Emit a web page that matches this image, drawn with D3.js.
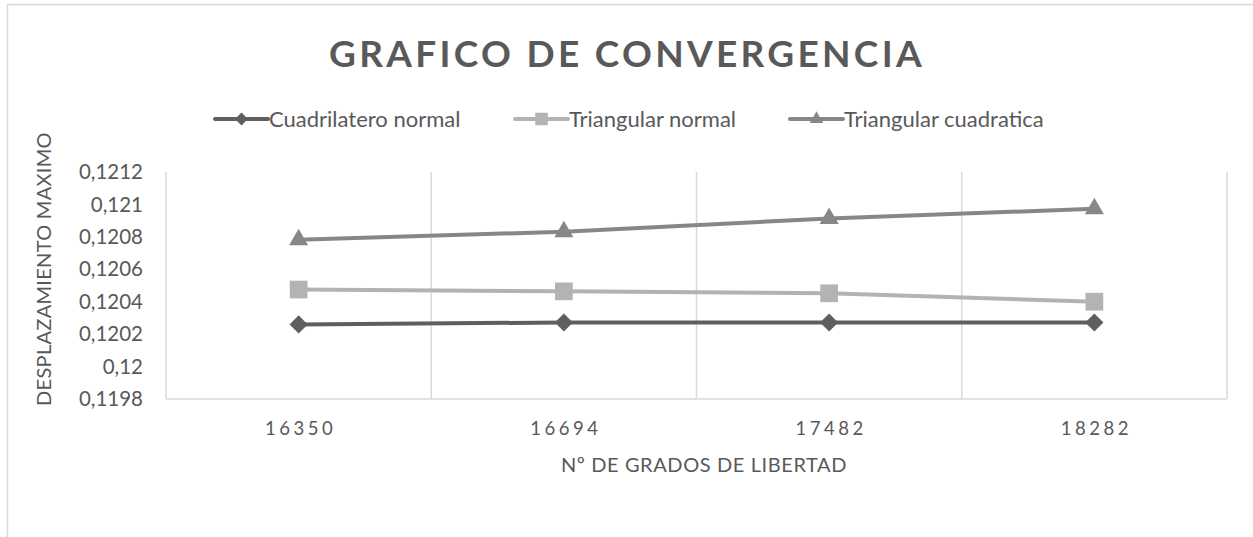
<!DOCTYPE html>
<html>
<head>
  <meta charset="utf-8">
  <title>Grafico de convergencia</title>
  <script src="https://d3js.org/d3.v7.min.js"></script>
  <style>
    body { margin: 0; background: #fff; }
    text { font-family: Lato, "Open Sans", sans-serif; fill: #595959; }
  </style>
</head>
<body>
<div id="chart"></div>
<script>
  // data
  var categories = ["16350", "16694", "17482", "18282"];
  var seriesNames = ["Cuadrilatero normal", "Triangular normal", "Triangular cuadratica"];
  var cuadrilateroNormal = [0.12026, 0.120272, 0.120272, 0.120272];
  var triangularNormal = [0.120475, 0.120464, 0.120452, 0.1204];
  var triangularCuadratica = [0.120782, 0.120832, 0.120913, 0.120973];
  var yTicks = [0.1198, 0.12, 0.1202, 0.1204, 0.1206, 0.1208, 0.121, 0.1212];

  var series = [
    { name: seriesNames[0], values: cuadrilateroNormal, color: "#5f5f5f", symbol: d3.symbolDiamond2, size: 210 },
    { name: seriesNames[1], values: triangularNormal, color: "#b3b3b3", symbol: d3.symbolSquare2, size: 400 },
    { name: seriesNames[2], values: triangularCuadratica, color: "#878787", symbol: d3.symbolTriangle2, size: 260 }
  ];

  var W = 1253, H = 537;
  var margin = { top: 172, right: 26, bottom: 138, left: 166 };

  var svg = d3.select("#chart").append("svg")
    .attr("width", W)
    .attr("height", H);

  // outer chart border
  svg.append("rect")
    .attr("x", 7.5).attr("y", 4.5)
    .attr("width", 1260).attr("height", 600)
    .attr("fill", "none")
    .attr("stroke", "#d9d9d9")
    .attr("stroke-width", 1.5);

  var x = d3.scaleBand()
    .domain(categories)
    .range([margin.left, W - margin.right])
    .padding(0);

  var y = d3.scaleLinear()
    .domain([0.1198, 0.1212])
    .range([H - margin.bottom, margin.top]);

  // vertical gridlines at category borders
  var borders = categories.map(function (c) { return x(c); }).concat([x.range()[1]]);
  svg.selectAll(".grid")
    .data(borders)
    .enter().append("line")
    .attr("class", "grid")
    .attr("x1", function (d) { return d; })
    .attr("x2", function (d) { return d; })
    .attr("y1", y(0.1212))
    .attr("y2", y(0.1198))
    .attr("stroke", "#d9d9d9")
    .attr("stroke-width", 1.5);

  // x axis line
  svg.append("line")
    .attr("x1", x.range()[0]).attr("x2", x.range()[1])
    .attr("y1", y(0.1198)).attr("y2", y(0.1198))
    .attr("stroke", "#d9d9d9")
    .attr("stroke-width", 1.5);

  // y tick labels
  svg.selectAll(".ytick")
    .data(yTicks)
    .enter().append("text")
    .attr("class", "ytick")
    .attr("x", 143)
    .attr("y", function (d) { return y(d); })
    .attr("dy", "0.35em")
    .attr("text-anchor", "end")
    .style("font-size", "20.5px")
    .text(function (d) { return String(+d.toFixed(4)).replace(".", ","); });

  // x tick labels
  svg.selectAll(".xtick")
    .data(categories)
    .enter().append("text")
    .attr("class", "xtick")
    .attr("x", function (d) { return x(d) + x.bandwidth() / 2 + 2; })
    .attr("y", 435)
    .attr("text-anchor", "middle")
    .style("font-size", "18.5px")
    .style("letter-spacing", "3.5px")
    .text(function (d) { return d; });

  // axis titles
  svg.append("text")
    .attr("x", 704).attr("y", 472)
    .attr("text-anchor", "middle")
    .style("font-size", "20px")
    .style("letter-spacing", "0.6px")
    .text("Nº DE GRADOS DE LIBERTAD");

  svg.append("text")
    .attr("transform", "translate(51,269) rotate(-90)")
    .attr("text-anchor", "middle")
    .style("font-size", "20px")
    .style("letter-spacing", "0.3px")
    .text("DESPLAZAMIENTO MAXIMO");

  // title
  svg.append("text")
    .attr("x", 627).attr("y", 67)
    .attr("text-anchor", "middle")
    .style("font-size", "37px")
    .style("font-weight", "bold")
    .style("letter-spacing", "3.3px")
    .text("GRAFICO DE CONVERGENCIA");

  // lines
  var line = d3.line()
    .x(function (d, i) { return x(categories[i]) + x.bandwidth() / 2; })
    .y(function (d) { return y(d); });

  series.forEach(function (s) {
    svg.append("path")
      .datum(s.values)
      .attr("d", line)
      .attr("fill", "none")
      .attr("stroke", s.color)
      .attr("stroke-width", 4)
      .attr("stroke-linecap", "round");

    svg.selectAll(null)
      .data(s.values)
      .enter().append("path")
      .attr("transform", function (d, i) {
        return "translate(" + (x(categories[i]) + x.bandwidth() / 2) + "," + y(d) + ")";
      })
      .attr("d", d3.symbol().type(s.symbol).size(s.size))
      .attr("fill", s.color);
  });

  // legend
  var legendX = [215, 515, 790];
  var legend = svg.selectAll(".legend")
    .data(series)
    .enter().append("g")
    .attr("class", "legend")
    .attr("transform", function (d, i) { return "translate(" + legendX[i] + ",119)"; });

  legend.append("line")
    .attr("x1", 0).attr("x2", 53)
    .attr("stroke", function (d) { return d.color; })
    .attr("stroke-width", 4)
    .attr("stroke-linecap", "round");

  legend.append("path")
    .attr("transform", "translate(26.5,0)")
    .attr("d", function (d) { return d3.symbol().type(d.symbol).size(d.size * 0.5)(); })
    .attr("fill", function (d) { return d.color; });

  legend.append("text")
    .attr("x", 54)
    .attr("dy", "0.35em")
    .style("font-size", "22px")
    .text(function (d) { return d.name; });
</script>
</body>
</html>
